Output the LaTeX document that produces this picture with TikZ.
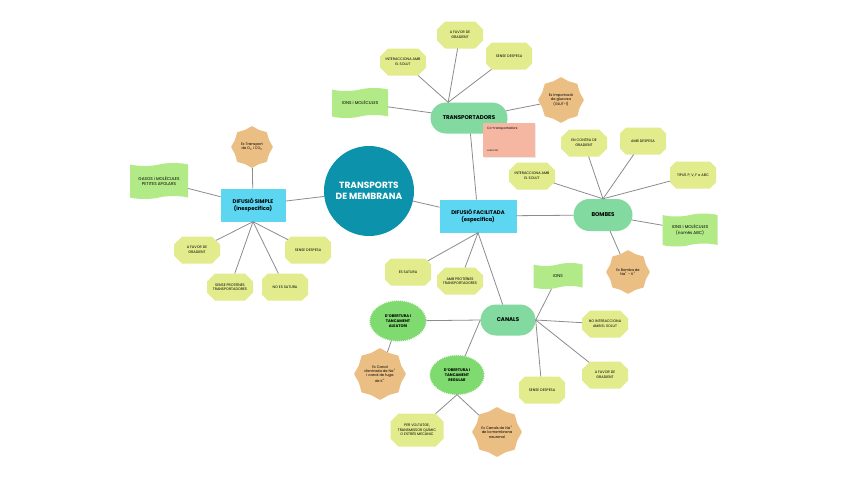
\documentclass[tikz,border=0pt]{standalone}
\usepackage{fontspec}
\setmainfont{Poppins}
\usetikzlibrary{shapes.misc,shapes.symbols,shapes.geometric,decorations.pathmorphing}
\definecolor{maincol}{HTML}{0C93AB}
\definecolor{tipcol}{HTML}{5DD7F1}
\definecolor{pillcol}{HTML}{82DAA0}
\definecolor{ideacol}{HTML}{E2EC8C}
\definecolor{bancol}{HTML}{B3EA88}
\definecolor{excol}{HTML}{EBBE83}
\definecolor{sealcol}{HTML}{7FDA70}
\definecolor{notecol}{HTML}{F5B7A2}
\definecolor{linkcol}{HTML}{8C8C8C}
\tikzset{
  link/.style={draw=linkcol,line width=0.8pt},
  idea/.style={chamfered rectangle,chamfered rectangle xsep=4pt,chamfered rectangle ysep=4pt,
    fill=ideacol,minimum width=46,minimum height=27,inner sep=0.5pt,align=center,
    font=\fontsize{3.6}{4.6}\selectfont},
  banner/.style={tape,tape bend height=3pt,fill=bancol,minimum width=56,minimum height=30,
    inner sep=1pt,align=center,font=\fontsize{4.2}{5.2}\selectfont},
  exem/.style={star,star points=8,star point ratio=1.14,fill=excol,minimum size=46,
    inner sep=0pt,align=center,rounded corners=0.6pt,font=\fontsize{3.6}{4.3}\selectfont},
  seal/.style={ellipse,fill=sealcol,decorate,decoration={zigzag,segment length=2pt,amplitude=0.7pt},
    minimum width=56,minimum height=40,inner sep=0pt,align=center,font=\bfseries\fontsize{3.8}{4.8}\selectfont},
  prot/.style={rounded rectangle,fill=pillcol,minimum width=79,minimum height=31,inner sep=1pt,
    font=\bfseries\fontsize{5.5}{6.5}\selectfont},
  tipus/.style={rectangle,fill=tipcol,minimum height=33,inner sep=3pt,align=center,
    font=\bfseries\fontsize{5.3}{7}\selectfont}
}
\begin{document}
\begin{tikzpicture}[x=1pt,y=-1pt,line cap=round,line join=round]
\useasboundingbox[fill=white] (0,0) rectangle (848,477);
\node[circle,fill=maincol,minimum size=90,inner sep=0pt,align=center,text=white,
  font=\bfseries\fontsize{9}{11}\selectfont] (tm) at (369,191) {TRANSPORTS\\DE MEMBRANA};
\node[tipus,minimum width=65] (ds) at (253,205) {DIFUSIÓ SIMPLE\\(inespecífica)};
\node[tipus,minimum width=77] (df) at (478,216) {DIFUSIÓ FACILITADA\\(específica)};
\node[prot] (tr) at (469,118) {TRANSPORTADORS};
\node[prot,minimum width=61,minimum height=32] (bo) at (603,215) {BOMBES};
\node[prot,minimum width=57] (ca) at (508,320) {CANALS};

\node[exem,minimum size=42] (dsex) at (252,147) {Ex Transport\\de O\textsubscript{2} i CO\textsubscript{2}};
\node[banner,minimum width=58,minimum height=36] (dsgas) at (159,181) {GASOS i MOLÈCULES\\PETITES APOLARS};
\node[idea] (dsa) at (197,250) {A FAVOR DE\\GRADIENT};
\node[idea] (dsb) at (230,287) {SENSE PROTEÏNES\\TRANSPORTADORES};
\node[idea] (dsc) at (285,287) {NO ES SATURA};
\node[idea] (dsd) at (308,250) {SENSE DESPESA};

\node[idea] (tra) at (403,62) {INTERACCIONA AMB\\EL SOLUT};
\node[idea] (trb) at (460,35) {A FAVOR DE\\GRADIENT};
\node[idea] (trc) at (509,56) {SENSE DESPESA};
\node[banner] (trions) at (360,103) {IONS i MOLÈCULES};
\node[exem] (trex) at (561,100) {Ex Importació\\de glucosa\\(GLUT-1)};

\node[idea] (boa) at (584,143) {EN CONTRA DE\\GRADIENT};
\node[idea] (bob) at (643,141) {AMB DESPESA};
\node[idea] (boc) at (532,176) {INTERACCIONA AMB\\EL SOLUT};
\node[idea] (bod) at (693,175) {TIPUS P, V, F o ABC};
\node[banner,minimum width=55,minimum height=33] (boions) at (690,230) {IONS i MOLÈCULES\\(només ABC)};
\node[exem,minimum size=44] (boex) at (628,272) {Ex Bomba de\\Na\textsuperscript{+} - K\textsuperscript{+}};

\node[idea] (dfa) at (408,272) {ES SATURA};
\node[idea] (dfb) at (460,281) {AMB PROTEÏNES\\TRANSPORTADORES};

\node[banner,minimum width=49,minimum height=26] (caions) at (558,276) {IONS};
\node[idea] (caa) at (605,324) {NO INTERACCIONA\\AMB EL SOLUT};
\node[idea] (cab) at (605,375) {A FAVOR DE\\GRADIENT};
\node[idea] (cac) at (542,390) {SENSE DESPESA};
\node[seal] (cal) at (398,321) {D'OBERTURA I\\TANCAMENT\\ALEATORI};
\node[seal,minimum width=54,minimum height=39] (creg) at (457,375) {D'OBERTURA I\\TANCAMENT\\REGULAR};
\node[exem,minimum size=52] (calex) at (380,374) {Ex Canal\\d'entrada de Na\textsuperscript{+}\\i canal de fuga\\de K\textsuperscript{+}};
\node[idea,minimum width=53,minimum height=33] (crega) at (417,430) {PER VOLTATGE,\\TRANSMISSOR QUÍMIC\\O ESTRÈS MECÀNIC};
\node[exem,minimum size=46] (cregex) at (497,432) {Ex Canals de Na\textsuperscript{+}\\de la membrana\\neuronal};

\draw[link] (tm) -- (ds);
\draw[link] (tm) -- (df);
\draw[link] (ds) -- (dsex);
\draw[link] (ds) -- (dsgas);
\foreach \n in {dsa,dsb,dsc,dsd}
  \draw[link] (ds.south) -- (\n);
\foreach \n in {tra,trb,trc}
  \draw[link] (tr.143) -- (\n);
\draw[link] (tr) -- (trions);
\draw[link] (tr) -- (trex);
\draw[link] (tr) -- (df);
\draw[link] (df) -- (bo);
\foreach \n in {boa,bob,boc,bod}
  \draw[link] (bo.north) -- (\n);
\draw[link] (bo) -- (boions);
\draw[link] (bo) -- (boex);
\foreach \n in {dfa,dfb,ca}
  \draw[link] (df.south) -- (\n);
\foreach \n in {caions,caa,cab,cac}
  \draw[link] (ca.east) -- (\n);
\draw[link] (ca.west) -- (cal);
\draw[link] (ca.west) -- (creg);
\draw[link] (cal) -- (calex);
\foreach \n in {crega,cregex}
  \draw[link] (creg.south) -- (\n);

\fill[black!8] (484,124) rectangle (536,158);
\node[rectangle,fill=notecol,minimum width=52,minimum height=34,inner sep=0pt] (note) at (509,140) {};
\node[anchor=west,inner sep=0pt,font=\fontsize{3.2}{4}\selectfont] (notetxt) at (487,129) {Co-transportadors};
\node[anchor=west,inner sep=0pt,font=\fontsize{2.4}{3}\selectfont] (noteaut) at (487,151) {Júlia Prat};
\end{tikzpicture}
\end{document}
